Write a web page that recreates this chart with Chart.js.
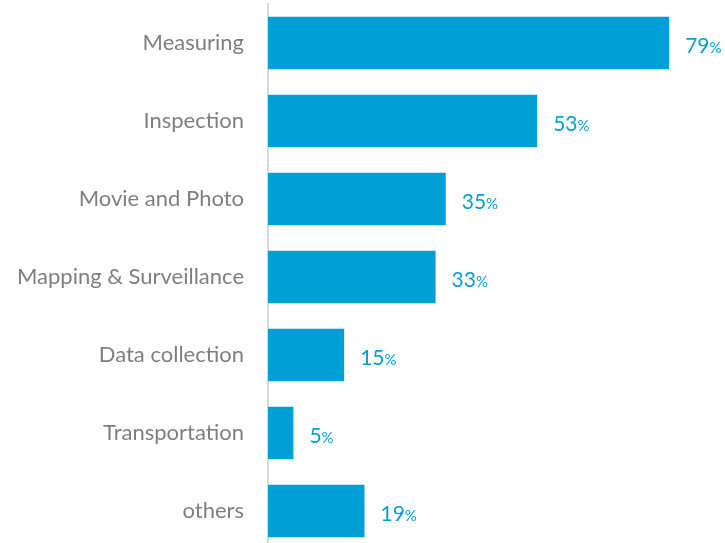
<!DOCTYPE html>
<html>
<head>
<meta charset="utf-8">
<script src="https://cdn.jsdelivr.net/npm/chart.js@4"></script>
<style>
  html, body { margin: 0; padding: 0; background: #fff; overflow: hidden; }
  #wrap { position: relative; width: 725px; height: 550px; }
</style>
</head>
<body>
<div id="wrap"><canvas id="chart"></canvas></div>
<script>
const categories = ["Measuring", "Inspection", "Movie and Photo", "Mapping & Surveillance", "Data collection", "Transportation", "others"];
const shares = [79, 53, 35, 33, 15, 5, 19];

const barColor = "#009fd6";
const labelFont = "Lato, sans-serif";

// value labels with a smaller percent sign
const valueLabels = {
  id: "valueLabels",
  afterDatasetsDraw(chart) {
    const ctx = chart.ctx;
    const meta = chart.getDatasetMeta(0);
    ctx.save();
    ctx.fillStyle = barColor;
    ctx.textBaseline = "alphabetic";
    ctx.textAlign = "left";
    meta.data.forEach((bar, i) => {
      const x = bar.x + 16;
      const y = bar.y + 10;
      ctx.font = "21px " + labelFont;
      const txt = String(shares[i]);
      ctx.fillText(txt, x, y);
      const w = ctx.measureText(txt).width;
      ctx.font = "15px " + labelFont;
      ctx.fillText("%", x + w, y);
    });
    ctx.restore();
  }
};

new Chart(document.getElementById("chart"), {
  type: "bar",
  data: {
    labels: categories,
    datasets: [{
      data: shares,
      backgroundColor: barColor,
      categoryPercentage: 0.67,
      barPercentage: 1
    }]
  },
  options: {
    indexAxis: "y",
    responsive: true,
    maintainAspectRatio: false,
    animation: false,
    layout: { padding: { top: 4, right: 2, left: 0, bottom: 0 }, autoPadding: false },
    plugins: {
      legend: { display: false },
      tooltip: { enabled: false }
    },
    scales: {
      x: {
        min: 0,
        max: 89.6,
        display: false
      },
      y: {
        grid: { display: false, drawTicks: false },
        border: { display: true, color: "#d9d9d9", width: 2 },
        afterFit(scale) {
          scale.width = 268;
          scale.paddingTop = 0;
          scale.paddingBottom = 0;
        },
        ticks: {
          color: "#7f7f7f",
          padding: 24,
          font: { family: labelFont, size: 22 }
        }
      }
    }
  },
  plugins: [valueLabels]
});
</script>
</body>
</html>
